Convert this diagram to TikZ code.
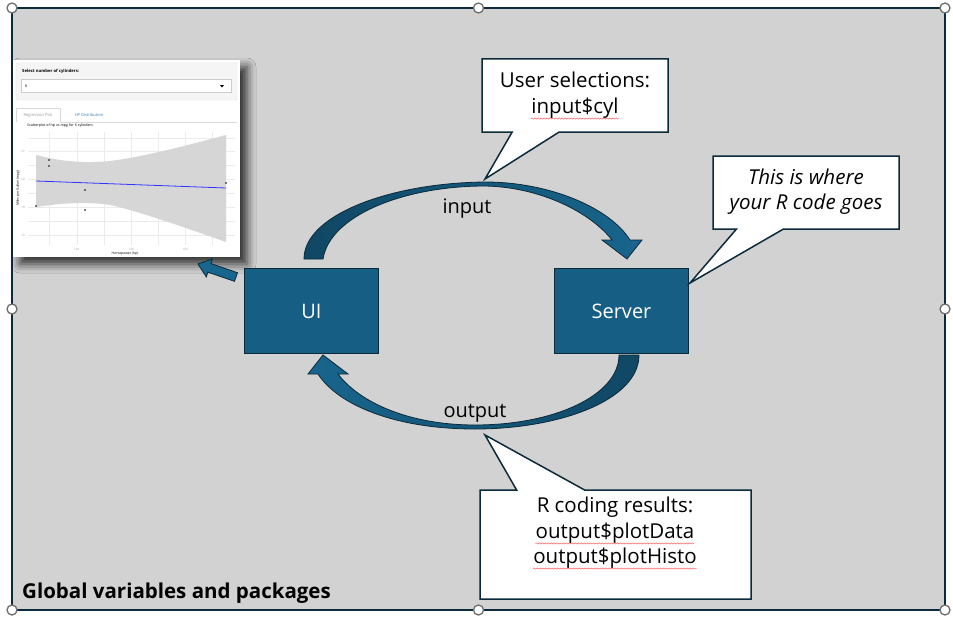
\documentclass[tikz,border=0pt]{standalone}
\usepackage{fontspec}
\setmainfont{Open Sans}
\usetikzlibrary{shapes.callouts,shadows.blur,decorations.pathmorphing,calc}
\definecolor{bggrey}{HTML}{D2D2D2}
\definecolor{edge}{HTML}{0B2A3B}
\definecolor{boxblue}{HTML}{165E83}
\definecolor{arrowdark}{HTML}{104764}
\definecolor{arrowlight}{HTML}{18658D}
\definecolor{handlegrey}{HTML}{6E6E6E}
\definecolor{gridgrey}{HTML}{EBEBEB}
\definecolor{bandgrey}{HTML}{D6D6D6}
\definecolor{shinyblue}{HTML}{337AB7}
\tikzset{
  handle/.style={circle,draw=handlegrey,fill=white,line width=1.3pt,minimum size=10pt,inner sep=0pt},
  bluebox/.style={draw=edge,fill=boxblue,line width=1.5pt,minimum width=134pt,minimum height=85pt,text=white,font=\fontsize{20}{22}\selectfont},
  callbox/.style={rectangle callout,draw=edge,fill=white,line width=1.5pt},
  calltext/.style={anchor=base,inner sep=0pt,font=\fontsize{20.5}{22}\selectfont},
  arclabel/.style={anchor=base,inner sep=0pt,font=\fontsize{20}{22}\selectfont},
  blockarrow/.style={draw=edge,line width=0.8pt},
  spell/.style={draw=red!70,line width=0.45pt,decorate,decoration={snake,amplitude=0.6pt,segment length=3pt}},
  tiny/.style={inner sep=0pt,font=\fontsize{4}{5}\selectfont},
}
\begin{document}
\begin{tikzpicture}[x=1pt,y=-1pt]
\useasboundingbox (0,0) rectangle (953,618);
% frame
\path[fill=bggrey,draw=edge,line width=1.2pt] (12,8) rectangle (945,610);

% screenshot
\path[fill=white,blur shadow={shadow xshift=7pt,shadow yshift=-7pt,shadow blur radius=9pt,shadow opacity=80}] (13,60) rectangle (240,257);
\path[fill=white] (13,60) rectangle (240,257);
\node[draw=gray!25,fill=gray!8,rounded corners=1pt,minimum width=221pt,minimum height=37pt,inner sep=0pt] (panel) at (126.5,81.5) {};
\node[tiny,anchor=west,font=\bfseries\fontsize{4.2}{5}\selectfont] (sel) at (22,71) {Select number of cylinders:};
\node[draw=gray!40,fill=white,minimum width=210pt,minimum height=13pt,inner sep=0pt] (drop) at (126,86) {};
\node[tiny,anchor=west] (six) at (25,86) {6};
\fill (220,85) -- (224,85) -- (222,87.5) -- cycle;
\draw[gray!30,line width=0.5pt] (16,122) -- (16,108) -- (60,108) -- (60,122) (60,122) -- (237,122);
\node[tiny,text=gray!80] (tab1) at (38,115) {Regression Plot};
\node[tiny,text=shinyblue] (tab2) at (89,115) {HP Distribution};
\node[tiny,anchor=west,font=\fontsize{3.6}{4.5}\selectfont] (ptitle) at (27,126) {Scatterplot of hp vs mpg for 6 cylinders};
% grid
\foreach \yy in {138,151.6,165.5,179.4,193.3,207.2,221,235} \draw[gridgrey,line width=0.4pt] (28,\yy) -- (235,\yy);
\foreach \xx in {49.6,76.7,103.9,131,158.2,185.3,212.4} \draw[gridgrey,line width=0.4pt] (\xx,132) -- (\xx,245);
\fill[bandgrey] plot[smooth] coordinates {(36,155) (60,160) (85,162) (110,161) (140,156) (180,147) (226,135)} -- plot[smooth] coordinates {(226,242) (180,226) (140,213) (110,205) (85,203) (60,204) (36,207)} -- cycle;
\draw[blue!80,line width=0.8pt] (36,181) -- (226,188);
\foreach \p in {(36,206),(49,160),(49,166),(85,190),(85,210),(226,183)} \fill \p circle (0.8pt);
\foreach \yy/\lab in {151.6/22,179.4/20,207.2/18,235/16} \node[tiny,text=gray!70,font=\fontsize{3}{4}\selectfont] at (23,\yy) {\lab};
\foreach \xx/\lab in {76.7/120,131/140,185.3/160} \node[tiny,text=gray!70,font=\fontsize{3}{4}\selectfont] at (\xx,249.5) {\lab};
\node[tiny,rotate=90,font=\fontsize{3.4}{4}\selectfont] (ylab) at (18,188) {Miles per Gallon (mpg)};
\node[tiny,font=\fontsize{3.4}{4}\selectfont] (xlab) at (125,254) {Horsepower (hp)};

% boxes
\node[bluebox] (ui) at (311.5,311) {UI};
\node[bluebox] (server) at (621.5,311) {Server};

% upper curved arrow (input)
\draw[blockarrow,left color=arrowdark,right color=arrowlight]
 (304,259) .. controls (304,215) and (390,183) .. (485,182)
 .. controls (550,182) and (610,208) .. (630,240) -- (642,240) -- (627,259) -- (602,240) -- (612,240)
 .. controls (590,212) and (540,187) .. (485,186)
 .. controls (405,186) and (330,215) .. (323,259) -- cycle;
% lower curved arrow (output)
\draw[blockarrow,left color=arrowlight,right color=arrowdark]
 (619,355) -- (639,355) .. controls (639,400) and (560,429) .. (475,429)
 .. controls (395,429) and (338,405) .. (318,374) -- (308,374) -- (323,355) -- (348,374) -- (338,374)
 .. controls (360,403) and (410,425) .. (475,425)
 .. controls (555,425) and (619,395) .. (619,355) -- cycle;
\node[arclabel] (inlab) at (467,213) {input};
\node[arclabel] (outlab) at (475,417) {output};

% small arrow to screenshot
\draw[blockarrow,fill=arrowlight] (237.5,272.7) -- (210.9,263.6) -- (212.5,258.9) -- (198,264) -- (206.3,276.9) -- (207.9,272.2) -- (234.5,281.3) -- cycle;

% callouts
\node[callbox,callout absolute pointer={(485,179)},callout pointer width=47pt,minimum width=186pt,minimum height=73pt] (c1) at (575,95.5) {};
\node[calltext] (c1a) at (575,88) {User selections:};
\node[calltext] (c1b) at (575,113) {input\$cyl};
\draw[spell] ([yshift=-5.5pt]c1b.base west) -- ([yshift=-5.5pt]c1b.base east);

\node[callbox,callout absolute pointer={(690,283)},callout pointer width=47pt,minimum width=186pt,minimum height=73pt] (c2) at (806,192.5) {};
\node[calltext,font=\itshape\fontsize{20.5}{22}\selectfont] (c2a) at (806,184) {This is where};
\node[calltext,font=\itshape\fontsize{20.5}{22}\selectfont] (c2b) at (806,209) {your R code goes};

\node[callbox,callout absolute pointer={(485,435)},callout pointer width=68pt,minimum width=271pt,minimum height=109pt] (c3) at (615.5,544.5) {};
\node[calltext] (c3a) at (615,512) {R coding results:};
\node[calltext] (c3b) at (615,538) {output\$plotData};
\node[calltext] (c3c) at (615,563) {output\$plotHisto};
\draw[spell] ([yshift=-5.5pt]c3b.base west) -- ([yshift=-5.5pt]c3b.base east);
\draw[spell] ([yshift=-5.5pt]c3c.base west) -- ([yshift=-5.5pt]c3c.base east);

% footer label
\node[anchor=base west,inner sep=0pt,font=\bfseries\fontsize{20.5}{22}\selectfont] (glob) at (22,598) {Global variables and packages};

% selection handles
\foreach \hx/\hy [count=\i] in {12/8,478.5/8,945/8,12/309,945/309,12/610,478.5/610,945/610}
  \node[handle] (h\i) at (\hx,\hy) {};
\end{tikzpicture}
\end{document}
